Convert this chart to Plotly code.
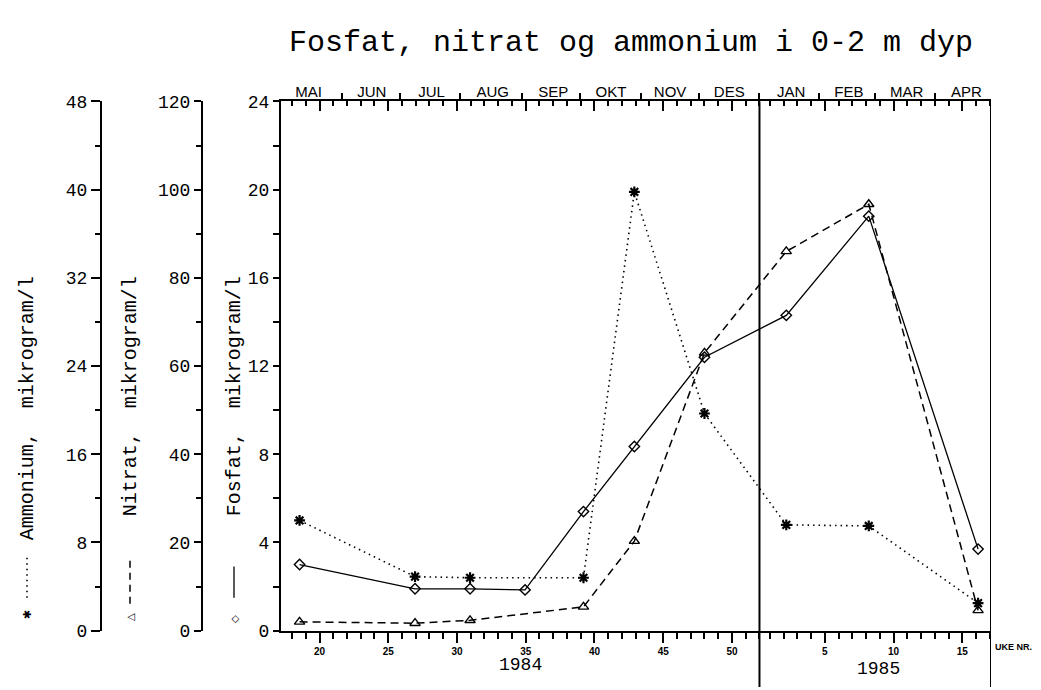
import plotly.graph_objects as go

W, H = 1041, 690
# the page body adds an 8px margin around the figure; positions below are page pixels
PAGE_OFF = 8

# ---------------- data ----------------
# sampling position in weeks counted from start of 1984 (1985 weeks follow week 52)
uke = [18.55, 26.95, 30.95, 34.95, 39.2, 42.9, 48.0, 53.95, 59.95, 67.9]
fosfat = [3.0, 1.9, 1.9, 1.85, 5.4, 8.35, 12.4, 14.3, 18.8, 3.7]          # 0-24 axis
nitrat = [2.0, 1.7, 2.35, None, 5.4, 20.3, 63.0, 86.0, 96.7, 4.6]          # 0-120 axis
ammonium = [10.0, 4.9, 4.8, None, 4.8, 39.8, 19.7, 9.6, 9.5, 2.5]          # 0-48 axis

weeks_1984 = list(range(18, 53))
weeks_1985 = list(range(1, 18))
week_labels_1984 = [20, 25, 30, 35, 40, 45, 50]
week_labels_1985 = [5, 10, 15]
OFFSET_1985 = 51.75

month_names = ["MAI", "JUN", "JUL", "AUG", "SEP", "OKT", "NOV", "DES",
               "JAN", "FEB", "MAR", "APR"]
month_centers = [19.2, 23.8, 28.15, 32.6, 37.0, 41.2, 45.5, 49.8,
                 54.3, 58.5, 62.7, 67.05]
month_bounds = [21.6, 25.84, 30.2, 34.76, 38.93, 43.35, 47.6, 52.0,
                56.34, 60.4, 64.8]
year_break = 52.0
x_range = [17.2, 68.84]

fos_ticks = list(range(0, 25, 4))
fos_minor = list(range(2, 24, 4))
nit_ticks = list(range(0, 121, 20))
nit_minor = list(range(10, 120, 20))
amm_ticks = list(range(0, 49, 8))
amm_minor = list(range(4, 48, 8))

MONO = "Liberation Mono, DejaVu Sans Mono, monospace"
SANS = "Liberation Sans, Arial, sans-serif"
BLACK = "black"


def px_x(p):
    return (p - PAGE_OFF) / W


def px_y(p):
    return 1 - (p - PAGE_OFF) / H


PLOT_TOP, PLOT_BOT = 95, 640
PLOT_L, PLOT_R = 281, 991
ydom = [px_y(PLOT_BOT), px_y(PLOT_TOP)]

minor_weeks = weeks_1984 + [OFFSET_1985 + n for n in weeks_1985]
major_weeks = week_labels_1984 + [OFFSET_1985 + n for n in week_labels_1985]
major_text = [str(w) for w in week_labels_1984] + [str(w) for w in week_labels_1985]

fig = go.Figure()

fig.add_trace(go.Scatter(
    x=uke, y=fosfat, mode="lines+markers", name="Fosfat",
    line=dict(color=BLACK, width=1.3),
    marker=dict(symbol="diamond-open", size=8, color=BLACK, line=dict(width=1.4)),
    connectgaps=True, xaxis="x", yaxis="y", showlegend=False))
fig.add_trace(go.Scatter(
    x=uke, y=nitrat, mode="lines+markers", name="Nitrat",
    line=dict(color=BLACK, width=1.5, dash="8px,5px"),
    marker=dict(symbol="triangle-up-open", size=9, color=BLACK, line=dict(width=1.4)),
    connectgaps=True, xaxis="x", yaxis="y2", showlegend=False))
fig.add_trace(go.Scatter(
    x=uke, y=ammonium, mode="lines+markers", name="Ammonium",
    line=dict(color=BLACK, width=1.6, dash="1.5px,4px"),
    marker=dict(symbol="asterisk-open", size=9, color=BLACK, line=dict(width=2.2, color=BLACK)),
    connectgaps=True, xaxis="x", yaxis="y3", showlegend=False))

# empty traces so the overlaying top axes are drawn
for ax in ["x2", "x3", "x4"]:
    fig.add_trace(go.Scatter(x=[None], y=[None], xaxis=ax, yaxis="y",
                             showlegend=False, hoverinfo="skip"))

axis_common = dict(showgrid=False, zeroline=False, tickcolor=BLACK, linecolor=BLACK)

fig.update_layout(
    width=W, height=H,
    margin=dict(l=0, r=0, t=0, b=0),
    paper_bgcolor="white", plot_bgcolor="white",
    xaxis=dict(
        domain=[px_x(PLOT_L), px_x(PLOT_R)], range=x_range, anchor="y", side="bottom",
        showline=True, linewidth=2, ticks="outside", ticklen=10, tickwidth=1.5,
        tickmode="array", tickvals=major_weeks, ticktext=major_text,
        tickfont=dict(family=SANS, size=10, color=BLACK, weight="bold"),
        minor=dict(tickmode="array", tickvals=minor_weeks, ticks="outside",
                   ticklen=6, tickwidth=1.5, tickcolor=BLACK),
        **axis_common),
    xaxis2=dict(
        overlaying="x", range=x_range, anchor="y", side="top",
        showline=True, linewidth=2, ticks="inside", ticklen=10, tickwidth=1.5,
        tickmode="array", tickvals=major_weeks, showticklabels=False,
        minor=dict(tickmode="array", tickvals=minor_weeks, ticks="inside",
                   ticklen=5, tickwidth=1.5, tickcolor=BLACK),
        **axis_common),
    xaxis3=dict(
        overlaying="x", range=x_range, anchor="y", side="top",
        showline=False, ticks="outside", ticklen=7, tickwidth=1.5,
        tickmode="array", tickvals=month_bounds, showticklabels=False,
        **axis_common),
    xaxis4=dict(
        overlaying="x", range=x_range, anchor="y", side="top",
        showline=False, ticks="", ticklen=0,
        tickmode="array", tickvals=month_centers, ticktext=month_names,
        tickfont=dict(family=SANS, size=15, color=BLACK),
        **axis_common),
    yaxis=dict(
        domain=ydom, range=[0, 24], anchor="x", side="left",
        showline=True, linewidth=2, ticks="outside", ticklen=6, tickwidth=1.5,
        tickmode="array", tickvals=fos_ticks,
        tickfont=dict(family=MONO, size=18, color=BLACK),
        minor=dict(tickmode="array", tickvals=fos_minor, ticks="outside",
                   ticklen=6, tickwidth=1.5, tickcolor=BLACK),
        **axis_common),
    yaxis2=dict(
        overlaying="y", range=[0, 120], anchor="free", position=px_x(202), side="left",
        showline=True, linewidth=2, ticks="outside", ticklen=7, tickwidth=1.5,
        tickmode="array", tickvals=nit_ticks,
        tickfont=dict(family=MONO, size=18, color=BLACK),
        minor=dict(tickmode="array", tickvals=nit_minor, ticks="outside",
                   ticklen=5, tickwidth=1.5, tickcolor=BLACK),
        **axis_common),
    yaxis3=dict(
        overlaying="y", range=[0, 48], anchor="free", position=px_x(101), side="left",
        showline=True, linewidth=2, ticks="outside", ticklen=9, tickwidth=1.5,
        tickmode="array", tickvals=amm_ticks,
        tickfont=dict(family=MONO, size=18, color=BLACK),
        minor=dict(tickmode="array", tickvals=amm_minor, ticks="outside",
                   ticklen=5, tickwidth=1.5, tickcolor=BLACK),
        **axis_common),
)

shapes = [
    # year boundary and right frame edge, extended below the axis
    dict(type="line", xref="x", yref="paper", x0=year_break, x1=year_break,
         y0=0, y1=px_y(PLOT_TOP), line=dict(color=BLACK, width=2)),
    dict(type="line", xref="x", yref="paper", x0=x_range[1], x1=x_range[1],
         y0=0, y1=px_y(PLOT_TOP), line=dict(color=BLACK, width=2)),
    # legend line samples
    dict(type="line", xref="paper", yref="paper", x0=px_x(27), x1=px_x(27),
         y0=px_y(565), y1=px_y(610), line=dict(color=BLACK, width=1.6, dash="1.5px,4px")),
    dict(type="line", xref="paper", yref="paper", x0=px_x(130), x1=px_x(130),
         y0=px_y(568), y1=px_y(613), line=dict(color=BLACK, width=1.5, dash="7px,5px")),
    dict(type="line", xref="paper", yref="paper", x0=px_x(234), x1=px_x(234),
         y0=px_y(574), y1=px_y(606), line=dict(color=BLACK, width=1.3)),
]

annotations = [
    dict(text="Fosfat, nitrat og ammonium i 0-2 m dyp", xref="paper", yref="paper",
         x=px_x(631), y=px_y(35), xanchor="center", yanchor="middle", showarrow=False,
         font=dict(family=MONO, size=30, color=BLACK)),
    dict(text="Ammonium,  mikrogram/l", xref="paper", yref="paper",
         x=px_x(27), y=px_y(273), xanchor="center", yanchor="top", textangle=-90,
         showarrow=False, font=dict(family=MONO, size=20, color=BLACK)),
    dict(text="Nitrat,  mikrogram/l", xref="paper", yref="paper",
         x=px_x(130), y=px_y(273), xanchor="center", yanchor="top", textangle=-90,
         showarrow=False, font=dict(family=MONO, size=20, color=BLACK)),
    dict(text="Fosfat,  mikrogram/l", xref="paper", yref="paper",
         x=px_x(234), y=px_y(273), xanchor="center", yanchor="top", textangle=-90,
         showarrow=False, font=dict(family=MONO, size=20, color=BLACK)),
    dict(text="✱", xref="paper", yref="paper", x=px_x(27), y=px_y(624),
         xanchor="center", yanchor="middle", textangle=-90, showarrow=False,
         font=dict(family="DejaVu Sans", size=11, color=BLACK)),
    dict(text="△", xref="paper", yref="paper", x=px_x(130), y=px_y(626),
         xanchor="center", yanchor="middle", textangle=-90, showarrow=False,
         font=dict(family="DejaVu Sans", size=10, color=BLACK)),
    dict(text="◇", xref="paper", yref="paper", x=px_x(234), y=px_y(628),
         xanchor="center", yanchor="middle", textangle=-90, showarrow=False,
         font=dict(family="DejaVu Sans", size=10, color=BLACK)),
    dict(text="1984", xref="x", yref="paper", x=34.6, y=px_y(675),
         xanchor="center", yanchor="middle", showarrow=False,
         font=dict(family=MONO, size=18, color=BLACK)),
    dict(text="1985", xref="x", yref="paper", x=60.65, y=px_y(679),
         xanchor="center", yanchor="middle", showarrow=False,
         font=dict(family=MONO, size=18, color=BLACK)),
    dict(text="UKE NR.", xref="paper", yref="paper", x=px_x(993), y=px_y(657),
         xanchor="left", yanchor="middle", showarrow=False,
         font=dict(family=SANS, size=9, color=BLACK, weight="bold")),
]

fig.update_layout(shapes=shapes, annotations=annotations)

fig.write_html("out.html")
